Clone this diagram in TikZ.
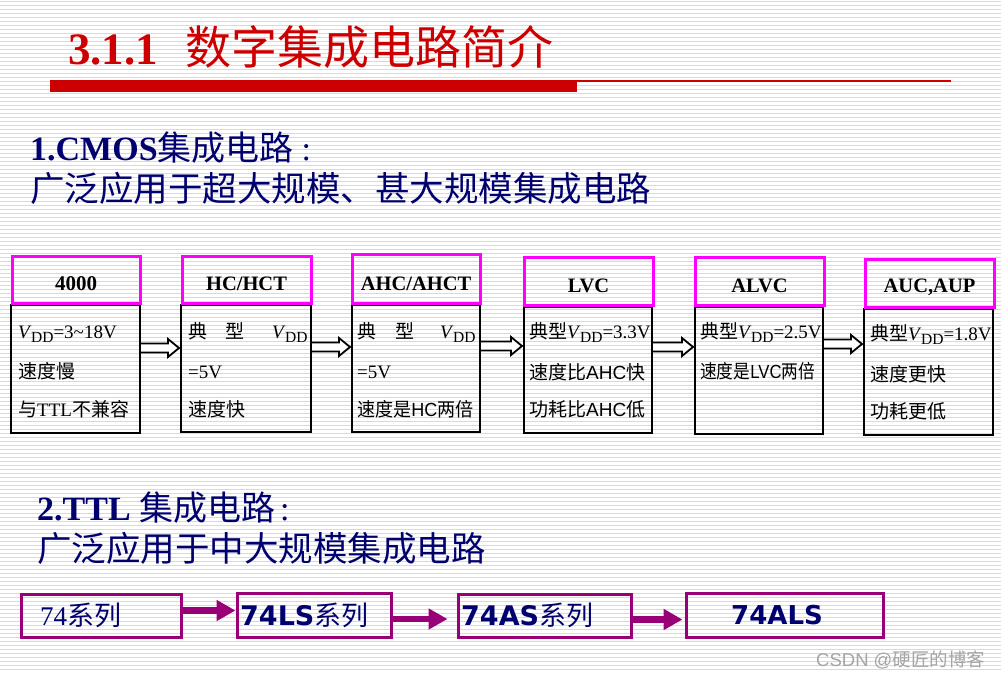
\documentclass[tikz,border=0pt]{standalone}
\usepackage{fontspec}
\setmainfont{Liberation Serif}
\newfontfamily\cjk{Noto Sans CJK SC}
\newfontfamily\vsans{DejaVu Sans}
\newfontfamily\asans{Liberation Sans}
\usetikzlibrary{arrows.meta}
\definecolor{navy}{RGB}{0,0,110}
\definecolor{titlered}{RGB}{204,0,0}
\definecolor{hdrmag}{RGB}{255,0,255}
\definecolor{ttlpurple}{RGB}{153,0,119}
\definecolor{stripegray}{RGB}{217,217,217}
\definecolor{wmgray}{RGB}{165,165,165}
\newcommand\fs[1]{\fontsize{#1}{#1}\selectfont}
\newcommand\vdd{\textit{V}\kern-0.5pt\raisebox{-0.22em}{\fontsize{15.5}{15.5}\selectfont DD}}
\tikzset{
  stripe/.style={draw=stripegray, line width=1pt},
  hdr/.style={draw=hdrmag, line width=3pt, inner sep=0pt},
  bodybox/.style={draw=black, line width=2pt, inner sep=0pt},
  hdrtext/.style={anchor=base, inner sep=0pt, font=\fs{20.5}\bfseries},
  btext/.style={anchor=base west, inner sep=0pt, font=\fs{19}},
  harrow/.style={draw=black, line width=1.8pt, fill=white, line join=miter},
  ttlbox/.style={draw=ttlpurple, line width=3pt, inner sep=0pt},
  tarrow/.style={draw=ttlpurple, line width=6.5pt, -{Triangle[length=19pt,width=20pt]}},
  navytext/.style={text=navy, inner sep=0pt, anchor=base west}
}
\newcommand\harr[3]{%
 \coordinate (#1-#2-y) at (0,#3);
 \coordinate (#1-#2-s) at (#1.east |- #1-#2-y);
 \coordinate (#1-#2-t) at (#2.west |- #1-#2-y);
 \draw[harrow] ([yshift=4.5pt]#1-#2-s) -- ([xshift=-12pt,yshift=4.5pt]#1-#2-t) -- ([xshift=-12pt,yshift=9pt]#1-#2-t) -- ([xshift=-1pt]#1-#2-t) -- ([xshift=-12pt,yshift=-9pt]#1-#2-t) -- ([xshift=-12pt,yshift=-4.5pt]#1-#2-t) -- ([yshift=-4.5pt]#1-#2-s);}
\begin{document}
\begin{tikzpicture}[x=1pt,y=-1pt]
\useasboundingbox (0,0) rectangle (1001,672);
\fill[white] (0,0) rectangle (1001,672);
\foreach \k in {0,...,167} \draw[stripe] (0,{4*\k+1.5}) -- (1001,{4*\k+1.5});

% title
\node[anchor=base west, text=titlered, inner sep=0pt] (title) at (68,64)
  {\fs{45}\bfseries 3.1.1\hspace{27pt}{\cjk\mdseries\fs{46}数字集成电路简介}};
\fill[titlered] (50,80) rectangle (577,92);
\draw[titlered, line width=1.5pt] (577,80.75) -- (951,80.75);

% section 1
\node[navytext] (s1) at (30,160) {\fs{34}\textbf{1.CMOS}{\cjk 集成电路}\hspace{8pt}:};
\node[navytext] (s1b) at (30,201) {\cjk\fs{34.5}广泛应用于超大规模、甚大规模集成电路};

% CMOS bodies
\node[bodybox, minimum width=129, minimum height=128] (b1) at (75.5,369) {};
\node[bodybox, minimum width=130, minimum height=127] (b2) at (246,368.5) {};
\node[bodybox, minimum width=128, minimum height=127] (b3) at (416,368.5) {};
\node[bodybox, minimum width=128, minimum height=126] (b4) at (588,370) {};
\node[bodybox, minimum width=128, minimum height=127] (b5) at (759,370.5) {};
\node[bodybox, minimum width=129, minimum height=126] (b6) at (928.5,372) {};
% headers
\node[hdr, minimum width=128, minimum height=47] (h1) at (76,279.5) {};
\node[hdr, minimum width=129, minimum height=47] (h2) at (246.5,279.5) {};
\node[hdr, minimum width=128, minimum height=49] (h3) at (416,278.5) {};
\node[hdr, minimum width=129, minimum height=48] (h4) at (588.5,281) {};
\node[hdr, minimum width=129, minimum height=48] (h5) at (759.5,281) {};
\node[hdr, minimum width=129, minimum height=48] (h6) at (929.5,283) {};
\node[hdrtext] (h1t) at (76,290) {\fs{21}4000};
\node[hdrtext] (h2t) at (246.5,290) {HC/HCT};
\node[hdrtext] (h3t) at (416,290) {AHC/AHCT};
\node[hdrtext] (h4t) at (588.5,292) {LVC};
\node[hdrtext] (h5t) at (759.5,292) {ALVC};
\node[hdrtext] (h6t) at (929.5,292) {AUC,AUP};

% body texts
\node[btext] (t1a) at (18,338) {\vdd=3\textasciitilde18V};
\node[btext] (t1b) at (18,378) {\cjk 速度慢};
\node[btext] (t1c) at (18,416) {{\cjk 与}TTL{\cjk 不兼容}};

\node[btext] (t2a) at (188,338) {{\cjk 典\hspace{18pt}型\hspace{28pt}}\vdd};
\node[btext] (t2b) at (188,378) {=5V};
\node[btext] (t2c) at (188,416) {\cjk 速度快};

\node[btext] (t3a) at (357,338) {{\cjk 典\hspace{19pt}型\hspace{26pt}}\vdd};
\node[btext] (t3b) at (357,378) {=5V};
\node[btext] (t3c) at (357,416) {\scalebox{0.95}[1]{{\cjk 速度是}{\asans HC}{\cjk 两倍}}};

\node[btext] (t4a) at (529,338) {{\cjk 典型}\vdd=3.3V};
\node[btext] (t4b) at (529,379) {{\cjk 速度比}{\asans AHC}{\cjk 快}};
\node[btext] (t4c) at (529,416) {{\cjk 功耗比}{\asans AHC}{\cjk 低}};

\node[btext] (t5a) at (700,338) {{\cjk 典型}\vdd=2.5V};
\node[btext] (t5b) at (700,378) {\scalebox{0.88}[1]{{\cjk 速度是}{\asans LVC}{\cjk 两倍}}};

\node[btext] (t6a) at (870,340) {{\cjk 典型}\vdd=1.8V};
\node[btext] (t6b) at (870,381) {\cjk 速度更快};
\node[btext] (t6c) at (870,418) {\cjk 功耗更低};

% hollow arrows
\harr{b1}{b2}{348}
\harr{b2}{b3}{347}
\harr{b3}{b4}{346}
\harr{b4}{b5}{347}
\harr{b5}{b6}{344}

% section 2
\node[navytext] (s2) at (37,520) {\fs{34}\textbf{2.TTL} {\cjk 集成电路}\hspace{5pt}:};
\node[navytext] (s2b) at (37,561) {\cjk\fs{34.5}广泛应用于中大规模集成电路};

% TTL boxes
\node[ttlbox, minimum width=160, minimum height=43] (A) at (101,615.5) {};
\node[ttlbox, minimum width=154, minimum height=44] (B) at (314,615) {};
\node[ttlbox, minimum width=173, minimum height=43] (C) at (544.5,615.5) {};
\node[ttlbox, minimum width=197, minimum height=44] (D) at (784.5,615) {};
\node[navytext] (At) at (40,625) {\fs{27}74{\cjk 系列}};
\node[navytext] (Bt) at (240,625) {\fs{27}{\vsans\bfseries 74LS}{\cjk 系列}};
\node[navytext] (Ct) at (461,625) {\fs{27}{\vsans\bfseries 74AS}{\cjk 系列}};
\node[navytext, anchor=base] (Dt) at (777,624) {\fs{26}\vsans\bfseries 74ALS};

\coordinate (yAB) at (0,610.5);
\coordinate (yBC) at (0,619);
\coordinate (yCD) at (0,619.5);
\draw[tarrow] (A.east |- yAB) -- (B.west |- yAB);
\draw[tarrow, shorten >=9pt] (B.east |- yBC) -- (C.west |- yBC);
\draw[tarrow, shorten >=2pt] (C.east |- yCD) -- (D.west |- yCD);

% watermark
\node[anchor=base west, text=wmgray, inner sep=0pt] (wm) at (816,666) {\fs{18.5}{\asans CSDN @}{\cjk 硬匠的博客}};
\end{tikzpicture}
\end{document}
